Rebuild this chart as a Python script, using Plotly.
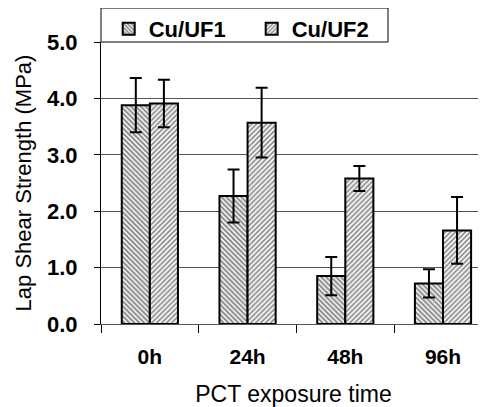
import plotly.graph_objects as go

categories = ["0h", "24h", "48h", "96h"]
series_names = ["Cu/UF1", "Cu/UF2"]
uf1_values = [3.88, 2.27, 0.85, 0.72]
uf1_errors = [0.48, 0.47, 0.34, 0.25]
uf2_values = [3.91, 3.57, 2.58, 1.66]
uf2_errors = [0.42, 0.62, 0.22, 0.59]
y_ticks = [0, 1, 2, 3, 4, 5]

FONT = "Liberation Sans, Arial, sans-serif"

fig = go.Figure()
fig.add_trace(go.Bar(
    name=series_names[0], x=categories, y=uf1_values,
    error_y=dict(type="data", array=uf1_errors, color="black", thickness=2, width=6),
    marker=dict(color="white", line=dict(color="black", width=2),
                pattern=dict(shape="\\", fgcolor="black", bgcolor="white", size=3.5, solidity=0.55)),
))
fig.add_trace(go.Bar(
    name=series_names[1], x=categories, y=uf2_values,
    error_y=dict(type="data", array=uf2_errors, color="black", thickness=2, width=6),
    marker=dict(color="white", line=dict(color="black", width=2),
                pattern=dict(shape="/", fgcolor="black", bgcolor="white", size=3.5, solidity=0.45)),
))

# page body has an 8px margin, so the figure is drawn 8px in and 8px down
W, H = 478, 399
ml, mr, mt, mb = 93, 0, 34, 83
pw, ph = W - ml - mr, H - mt - mb

fig.update_layout(
    width=W, height=H,
    margin=dict(l=ml, r=mr, t=mt, b=mb, pad=0),
    paper_bgcolor="white", plot_bgcolor="white",
    barmode="group", bargap=0.425, bargroupgap=0,
    font=dict(family=FONT, color="black"),
    showlegend=True,
    legend=dict(orientation="h", x=0.02, xanchor="left", xref="paper",
                y=1 + mt / ph, yanchor="top", yref="paper",
                bgcolor="rgba(0,0,0,0)", borderwidth=0,
                font=dict(family=FONT, size=22, color="black", weight="bold"),
                entrywidth=98, itemsizing="constant"),
    shapes=[dict(type="rect", xref="paper", yref="paper",
                 x0=0, x1=287 / pw, y0=1.0, y1=1 + 34 / ph,
                 line=dict(color="black", width=1), fillcolor="white", layer="below")],
)
fig.update_xaxes(
    range=[-0.5, 3.44], tickson="boundaries", ticks="outside", ticklen=8, tickcolor="black",
    showline=True, linecolor="#555", linewidth=1,
    tickfont=dict(family=FONT, size=21, color="black", weight="bold"),
    ticklabelstandoff=14,
    title=dict(text="PCT exposure time", font=dict(family=FONT, size=23, color="black"), standoff=21),
    automargin=False,
)
fig.update_yaxes(
    range=[0, 5], tickvals=y_ticks, tickformat=".1f", ticks="outside", ticklen=6, tickcolor="black",
    showline=True, linecolor="black", linewidth=1,
    showgrid=True, gridcolor="#555", gridwidth=1, zeroline=False,
    tickfont=dict(family=FONT, size=22, color="black", weight="bold"),
    ticklabelstandoff=12,
    title=dict(text="Lap Shear Strength (MPa)", font=dict(family=FONT, size=22, color="black"), standoff=9),
    automargin=False,
)

fig.write_html("out.html")
